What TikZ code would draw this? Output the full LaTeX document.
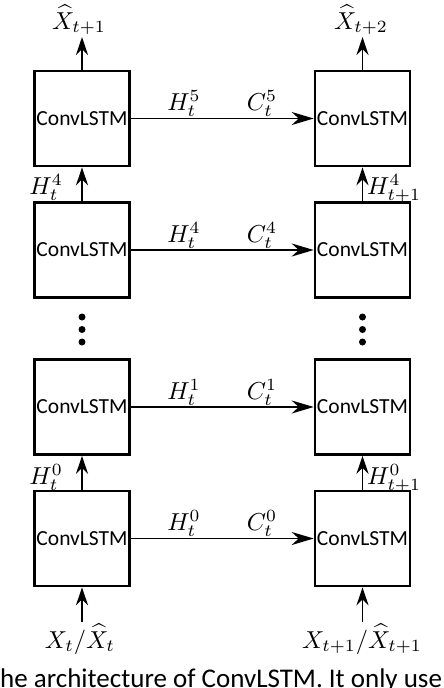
\documentclass[tikz,border=0pt]{standalone}
\usepackage{fontspec}
\newfontfamily\cfont{Carlito}
\usetikzlibrary{arrows.meta}
\newcommand{\lblm}[1]{\scalebox{2.45}{$#1$}}
\begin{document}
\begin{tikzpicture}[x=1pt,y=-1pt,
  cell/.style={draw,line width=2.6pt,minimum width=95pt,minimum height=95pt,inner sep=0pt,font=\cfont\fontsize{21.5}{24}\selectfont},
  harr/.style={line width=1.8pt,-{Stealth[length=22pt,width=13pt,inset=7pt]}},
  varr/.style={line width=1.8pt,-{Stealth[length=18pt,width=12pt,inset=6pt]}},
  lab/.style={inner sep=0pt},
  dot/.style={circle,fill,inner sep=0pt,minimum size=7pt}]
\useasboundingbox (0,0) rectangle (444,688);
% boxes
\node[cell] (L1) at (82,118.5) {ConvLSTM};
\node[cell] (L2) at (82,250) {ConvLSTM};
\node[cell] (L3) at (82,407) {ConvLSTM};
\node[cell] (L4) at (82,538.5) {ConvLSTM};
\node[cell] (R1) at (362.5,118.5) {ConvLSTM};
\node[cell] (R2) at (362.5,250) {ConvLSTM};
\node[cell] (R3) at (362.5,407) {ConvLSTM};
\node[cell] (R4) at (362.5,538.5) {ConvLSTM};
% horizontal arrows
\draw[harr] (L1.east) -- (R1.west);
\draw[harr] (L2.east) -- (R2.west);
\draw[harr] (L3.east) -- (R3.west);
\draw[harr] (L4.east) -- (R4.west);
% horizontal labels
\node[lab,anchor=base] (h5) at (184,110) {\lblm{H_t^5}};
\node[lab,anchor=base] (c5) at (262,110) {\lblm{C_t^5}};
\node[lab,anchor=base] (h4) at (184,242) {\lblm{H_t^4}};
\node[lab,anchor=base] (c4) at (262,242) {\lblm{C_t^4}};
\node[lab,anchor=base] (h1) at (184,399) {\lblm{H_t^1}};
\node[lab,anchor=base] (c1) at (262,399) {\lblm{C_t^1}};
\node[lab,anchor=base] (h0) at (184,530) {\lblm{H_t^0}};
\node[lab,anchor=base] (c0) at (262,530) {\lblm{C_t^0}};
% vertical arrows
\coordinate (oL) at (82,37);
\coordinate (oR) at (362.5,37);
\coordinate (iL) at (82,622);
\coordinate (iR) at (362.5,622);
\draw[varr] (L1.north) -- (oL);
\draw[varr] (R1.north) -- (oR);
\draw[varr] (L2.north) -- (L1.south);
\draw[varr] (R2.north) -- (R1.south);
\draw[varr] (L4.north) -- (L3.south);
\draw[varr] (R4.north) -- (R3.south);
\draw[varr] (iL) -- (L4.south);
\draw[varr] (iR) -- (R4.south);
% vertical labels
\node[lab,anchor=base] (xo1) at (79,29) {\lblm{\widehat{X}_{t+1}}};
\node[lab,anchor=base] (xo2) at (361,29) {\lblm{\widehat{X}_{t+2}}};
\node[lab,anchor=base east] (hl4) at (63,194) {\lblm{H_t^4}};
\node[lab,anchor=base west] (hr4) at (367,194) {\lblm{H_{t+1}^4}};
\node[lab,anchor=base east] (hl0) at (63,484) {\lblm{H_t^0}};
\node[lab,anchor=base west] (hr0) at (367,484) {\lblm{H_{t+1}^0}};
\node[lab,anchor=base] (xi1) at (80,648) {\lblm{X_t/\widehat{X}_t}};
\node[lab,anchor=base] (xi2) at (362,648) {\lblm{X_{t+1}/\widehat{X}_{t+1}}};
% dots
\node[dot] (d1) at (82,317) {};
\node[dot] (d2) at (82,329.5) {};
\node[dot] (d3) at (82,342) {};
\node[dot] (d4) at (362.5,317) {};
\node[dot] (d5) at (362.5,329.5) {};
\node[dot] (d6) at (362.5,342) {};
% caption
\node[inner sep=0pt,anchor=base west,font=\cfont\fontsize{27}{29}\selectfont] (cap) at (0,687) {he architecture of ConvLSTM. It only use};
\end{tikzpicture}
\end{document}
